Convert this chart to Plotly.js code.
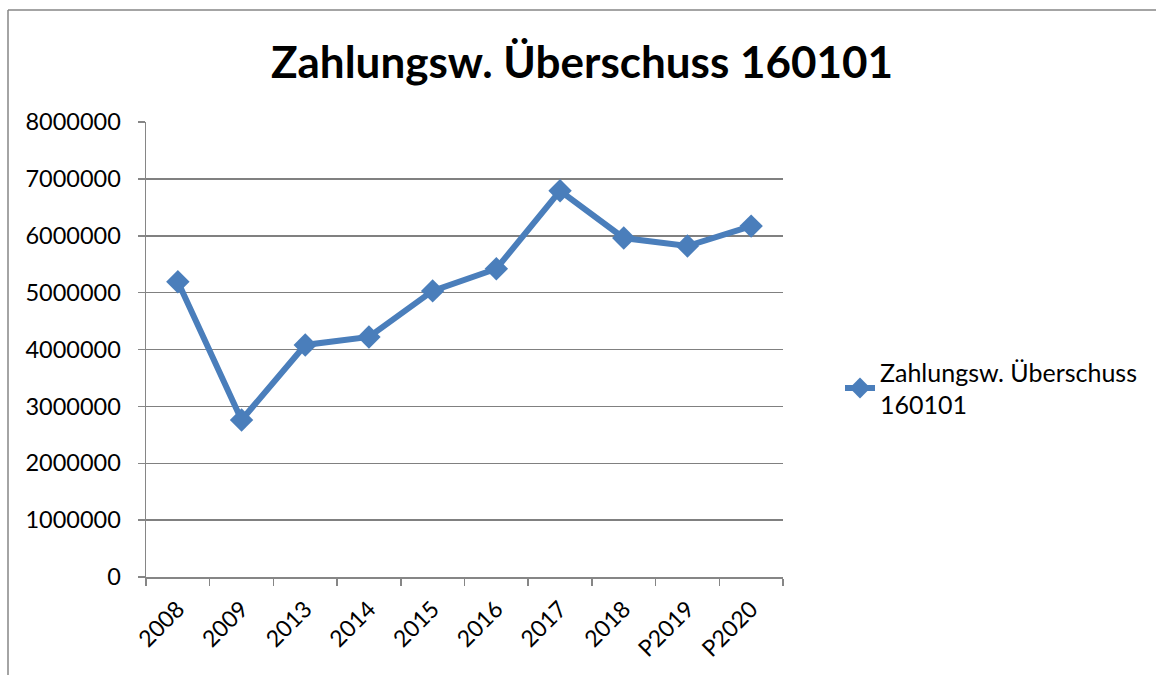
<!DOCTYPE html>
<html>
<head>
<meta charset="utf-8">
<script src="https://cdn.plot.ly/plotly-3.0.1.min.js"></script>
<style>html,body{margin:0;padding:0;background:#fff;}#chart{width:1156px;height:675px;}</style>
</head>
<body>
<div id="chart"></div>
<script>
var categories = ["2008","2009","2013","2014","2015","2016","2017","2018","P2019","P2020"];
var values = [5190000, 2760000, 4080000, 4220000, 5030000, 5420000, 6790000, 5960000, 5820000, 6170000];
var seriesName = "Zahlungsw. Überschuss<br>160101";
var titleText = "Zahlungsw. Überschuss 160101";
var yTicks = [0,1000000,2000000,3000000,4000000,5000000,6000000,7000000,8000000];

var FONT = "Lato, Carlito, Calibri, 'Open Sans', sans-serif";
var W = 1156, H = 675, L = 146, R = 373, T = 122, B = 98;
var pw = W - L - R, ph = H - T - B;
function px2x(p){ return (p - L) / pw; }
function py2y(p){ return (H - B - p) / ph; }

var trace = {
  x: categories, y: values, type: 'scatter', mode: 'lines+markers',
  name: seriesName,
  line: {color: '#4A7EBB', width: 6},
  marker: {symbol: 'diamond', size: 18, color: '#4A7EBB'},
  showlegend: true
};

var layout = {
  width: W, height: H,
  margin: {l: L, r: R, t: T, b: B, pad: 0},
  paper_bgcolor: '#fff', plot_bgcolor: '#fff',
  font: {family: FONT, color: '#000', size: 23},
  title: {text: '<b>' + titleText + '</b>', font: {family: FONT, size: 44, color: '#000'},
          x: 582 / W, xref: 'container', xanchor: 'center', y: 1 - 63 / H, yref: 'container', yanchor: 'middle'},
  xaxis: {type: 'category', range: [-0.5, categories.length - 0.5], tickangle: -45,
          showline: true, linecolor: '#868686', linewidth: 1.5,
          ticks: 'outside', tickson: 'boundaries', ticklen: 7, tickcolor: '#868686', tickwidth: 1.5,
          ticklabelstandoff: 8,
          showgrid: false, zeroline: false, tickfont: {family: FONT, size: 23, color: '#000'}, fixedrange: true},
  yaxis: {range: [0, 8000000], tickvals: yTicks, ticktext: yTicks.map(String),
          showline: true, linecolor: '#868686', linewidth: 1.5,
          ticks: 'outside', ticklen: 7, tickcolor: '#868686', tickwidth: 1.5,
          showgrid: true, gridcolor: '#808080', gridwidth: 1.5, zeroline: false,
          ticklabelstandoff: 12,
          tickfont: {family: FONT, size: 23.5, color: '#000'}, fixedrange: true},
  legend: {x: px2x(840), xanchor: 'left', y: py2y(388), yanchor: 'middle',
           font: {family: FONT, size: 25, color: '#000'}, bgcolor: 'rgba(0,0,0,0)', borderwidth: 0},
  shapes: [
    {type: 'line', xref: 'paper', yref: 'paper', x0: px2x(8), x1: px2x(8), y0: py2y(10), y1: py2y(700), line: {color: '#868686', width: 1.5}},
    {type: 'line', xref: 'paper', yref: 'paper', x0: px2x(8), x1: px2x(1200), y0: py2y(10), y1: py2y(10), line: {color: '#868686', width: 1.5}}
  ]
};

Plotly.newPlot('chart', [trace], layout, {displayModeBar: false, staticPlot: true});
</script>
</body>
</html>
